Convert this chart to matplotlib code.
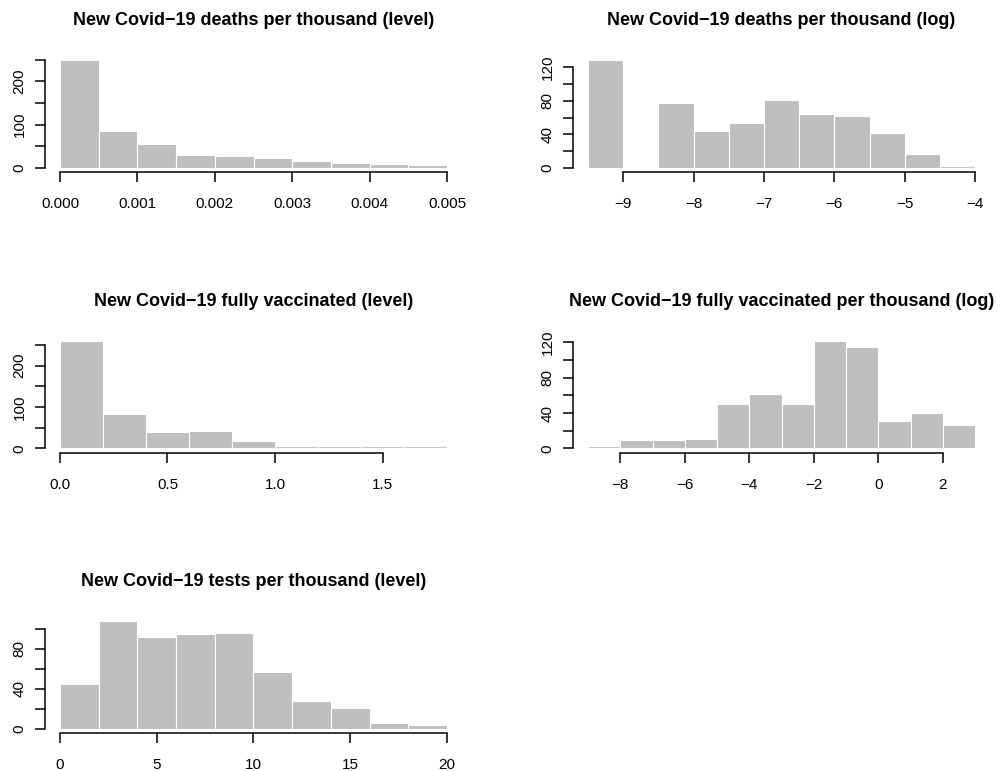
import numpy as np
import matplotlib
matplotlib.use('Agg')
import matplotlib.pyplot as plt

plt.rcParams['font.family'] = ['Liberation Sans', 'DejaVu Sans']
plt.rcParams['axes.unicode_minus'] = True

# %% ------ histogram data (bin edges and counts)

deaths_lvl_edges = [0.0, 0.0005, 0.001, 0.0015, 0.002, 0.0025, 0.003, 0.0035, 0.004, 0.0045, 0.005]
deaths_lvl_counts = [250, 85, 56, 29, 28, 22, 16, 12, 8, 6]

deaths_log_edges = [-9.5, -9.0, -8.5, -8.0, -7.5, -7.0, -6.5, -6.0, -5.5, -5.0, -4.5, -4.0]
deaths_log_counts = [129, 0, 77, 44, 54, 81, 64, 62, 42, 16, 2]

vacc_lvl_edges = [0.0, 0.2, 0.4, 0.6, 0.8, 1.0, 1.2, 1.4, 1.6, 1.8]
vacc_lvl_counts = [261, 82, 39, 42, 19, 5, 5, 6, 5]

vacc_log_edges = [-9, -8, -7, -6, -5, -4, -3, -2, -1, 0, 1, 2, 3]
vacc_log_counts = [3, 9, 9, 11, 50, 62, 50, 122, 115, 31, 40, 26]

tests_lvl_edges = [0, 2, 4, 6, 8, 10, 12, 14, 16, 18, 20]
tests_lvl_counts = [45, 108, 92, 95, 96, 57, 28, 21, 6, 4]

titles = ['New Covid\u221219 deaths per thousand (level)',
          'New Covid\u221219 deaths per thousand (log)',
          'New Covid\u221219 fully vaccinated (level)',
          'New Covid\u221219 fully vaccinated per thousand (log)',
          'New Covid\u221219 tests per thousand (level)']

# x ticks (R pretty) and y ticks / labels
xticks = [[0.000, 0.001, 0.002, 0.003, 0.004, 0.005],
          [-9, -8, -7, -6, -5, -4],
          [0.0, 0.5, 1.0, 1.5],
          [-8, -6, -4, -2, 0, 2],
          [0, 5, 10, 15, 20]]
xlabels = [['0.000', '0.001', '0.002', '0.003', '0.004', '0.005'],
           ['\u22129', '\u22128', '\u22127', '\u22126', '\u22125', '\u22124'],
           ['0.0', '0.5', '1.0', '1.5'],
           ['\u22128', '\u22126', '\u22124', '\u22122', '0', '2'],
           ['0', '5', '10', '15', '20']]
yticks = [[0, 50, 100, 150, 200, 250],
          [0, 20, 40, 60, 80, 100, 120],
          [0, 50, 100, 150, 200, 250],
          [0, 20, 40, 60, 80, 100, 120],
          [0, 20, 40, 60, 80, 100]]
ylabels = [['0', '', '100', '', '200', ''],
           ['0', '', '40', '', '80', '', '120'],
           ['0', '', '100', '', '200', ''],
           ['0', '', '40', '', '80', '', '120'],
           ['0', '', '40', '', '80', '']]

edges_all = [deaths_lvl_edges, deaths_log_edges, vacc_lvl_edges,
             vacc_log_edges, tests_lvl_edges]
counts_all = [deaths_lvl_counts, deaths_log_counts, vacc_lvl_counts,
              vacc_log_counts, tests_lvl_counts]

# %% ------ figure, plot regions placed in pixels like R's mfrow=c(3,2)
W, H = 1006, 771
fig = plt.figure(figsize=(W / 100, H / 100), dpi=100)

col_left = [44.5, 572.6]
col_w = 418
row_top = [55.5, 336.2, 616.5]
row_h = 116.5

for i in range(5):
    r, c = divmod(i, 2)
    ax = fig.add_axes([col_left[c] / W, 1 - (row_top[r] + row_h) / H,
                       col_w / W, row_h / H])
    e = np.array(edges_all[i], dtype=float)
    cnt = np.array(counts_all[i], dtype=float)
    ax.bar(e[:-1], cnt, width=np.diff(e), align='edge', color='#bebebe',
           edgecolor='white', linewidth=0.8)
    xr = e[-1] - e[0]
    ax.set_xlim(e[0] - 0.04 * xr, e[-1] + 0.04 * xr)
    ax.set_ylim(-0.04 * cnt.max(), 1.04 * cnt.max())
    # R style axes: only left and bottom, lines bounded to tick range
    for s in ['top', 'right']:
        ax.spines[s].set_visible(False)
    ax.spines['left'].set_bounds(yticks[i][0], yticks[i][-1])
    ax.spines['bottom'].set_bounds(xticks[i][0], xticks[i][-1])
    ax.spines['left'].set_linewidth(1.1)
    ax.spines['bottom'].set_linewidth(1.1)
    ax.set_xticks(xticks[i])
    ax.set_xticklabels(xlabels[i])
    ax.set_yticks(yticks[i])
    ax.set_yticklabels(ylabels[i], rotation=90, va='center')
    ax.tick_params(axis='both', length=7, width=1.1, labelsize=11)
    ax.tick_params(axis='x', pad=11)
    ax.tick_params(axis='y', pad=6)
    ax.set_title(titles[i], fontsize=13, fontweight='bold', pad=22)

fig.savefig('out.png', dpi=100)
